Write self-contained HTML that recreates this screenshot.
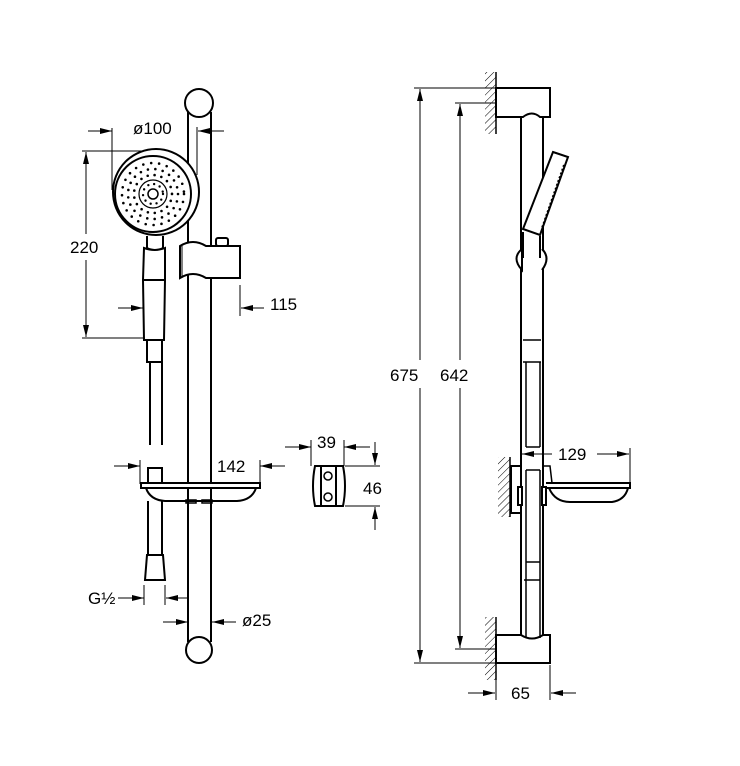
<!DOCTYPE html>
<html><head><meta charset="utf-8"><style>
html,body{margin:0;padding:0;background:#fff}
svg{display:block}
text{font-family:"Liberation Sans",sans-serif;font-size:17px;fill:#000}
</style></head><body>
<svg width="740" height="766" viewBox="0 0 740 766" xmlns="http://www.w3.org/2000/svg">
<defs>
<marker id="a" markerWidth="12" markerHeight="8" refX="12" refY="4" orient="auto" markerUnits="userSpaceOnUse">
<path d="M0,1 L12,4 L0,7 Z" fill="#000"/></marker>
<pattern id="h" width="5" height="5" patternUnits="userSpaceOnUse" patternTransform="rotate(45)">
<line x1="0" y1="0" x2="0" y2="5" stroke="#000" stroke-width="1"/></pattern>
</defs>
<g fill="none" stroke="#000" stroke-width="2">
<circle cx="199" cy="103" r="14" fill="#fff"/>
<line x1="188" y1="112" x2="188" y2="642"/>
<line x1="211" y1="112" x2="211" y2="642"/>
<circle cx="199" cy="650" r="13" fill="#fff"/>
<circle cx="156" cy="192" r="43" fill="#fff"/>
<circle cx="153" cy="194" r="38"/>
<circle cx="153" cy="194" r="14" stroke-width="1.2"/>
<circle cx="153" cy="194" r="5" stroke-width="1.5"/>
<circle cx="153" cy="194" r="10" stroke-width="2.4" stroke-dasharray="0 6" stroke-linecap="round"/>
<circle cx="153" cy="194" r="19" stroke-width="2.6" stroke-dasharray="0 7" stroke-linecap="round"/>
<circle cx="153" cy="194" r="25" stroke-width="2.6" stroke-dasharray="0 7.5" stroke-linecap="round"/>
<circle cx="153" cy="194" r="31" stroke-width="2.6" stroke-dasharray="0 8" stroke-linecap="round"/>
<path d="M147,236 L147,248 Q155,252 163,248 L163,236" fill="#fff"/>
<path d="M144,248 Q155,252 165,248 L165,280 L164,340 L144,340 L143,280 Z" fill="#fff"/>
<line x1="143" y1="280" x2="165" y2="280"/>
<rect x="147" y="340" width="15" height="22"/>
<line x1="150" y1="362" x2="150" y2="445"/>
<line x1="162" y1="362" x2="162" y2="445"/>
<path d="M180,246 Q193,238 206,246 L240,246 L240,278 L206,278 Q193,270 180,278 Z" fill="#fff"/>
<line x1="180" y1="246" x2="180" y2="278"/>
<line x1="182" y1="246" x2="182" y2="278" stroke-width="1"/>
<rect x="216" y="238" width="12" height="8" rx="2"/>
<rect x="148" y="468" width="14" height="15"/>
<path d="M141,483 L260,483 L260,488 L141,488 Z" fill="#fff"/>
<path d="M146,488 Q150,500 165,501 L237,501 Q252,500 256,488"/>
<rect x="186" y="500" width="10" height="3" stroke-width="1.5"/>
<rect x="202" y="500" width="10" height="3" stroke-width="1.5"/>
<line x1="148" y1="501" x2="148" y2="555"/>
<line x1="162" y1="501" x2="162" y2="555"/>
<path d="M147,555 L163,555 L165,580 L145,580 Z"/>
<path d="M315,466 L343,466 Q347,486 343,506 L315,506 Q311,486 315,466 Z"/>
<line x1="321" y1="466" x2="321" y2="506"/>
<line x1="336" y1="466" x2="336" y2="506"/>
<circle cx="328" cy="476" r="4" stroke-width="1.5"/>
<circle cx="328" cy="497" r="4" stroke-width="1.5"/>

<path d="M496,88 L550,88 L550,117 L540,117 Q532,110 523,117 L496,117 Z" fill="#fff"/>
<line x1="521" y1="118" x2="521" y2="638"/>
<line x1="543" y1="118" x2="543" y2="638"/>
<path d="M496,635 L521,635 Q532,642 543,635 L550,635 L550,663 L496,663 Z" fill="#fff"/>
<path d="M553,152 L568,157 L540,235 L523,229 Z" fill="#fff"/>
<line x1="564" y1="165" x2="542" y2="228" stroke-width="2" stroke-dasharray="2 2"/>
<path d="M523,232 L523,258 M540,236 L540,258"/>
<path d="M522,249 Q511,258 522,270 Z" fill="#fff"/>
<path d="M542,249 Q551,258 542,270" fill="#fff"/>
<path d="M523,340 L541,340 M523,362 L541,362" stroke-width="1.5"/>
<line x1="526" y1="362" x2="526" y2="447" stroke-width="1.5"/>
<line x1="540" y1="362" x2="540" y2="447" stroke-width="1.5"/>
<line x1="526" y1="447" x2="540" y2="447" stroke-width="1.5"/>
<line x1="526" y1="470" x2="540" y2="470" stroke-width="1.5"/>
<line x1="526" y1="470" x2="526" y2="638" stroke-width="1.5"/>
<line x1="540" y1="470" x2="540" y2="638" stroke-width="1.5"/>
<line x1="526" y1="562" x2="540" y2="562" stroke-width="1.5"/>
<line x1="524" y1="580" x2="540" y2="580" stroke-width="1.5"/>
<rect x="511" y="466" width="10" height="47" fill="#fff"/>
<rect x="518" y="487" width="4" height="18" fill="#fff"/>
<rect x="542" y="487" width="4" height="18" fill="#fff"/>
<path d="M543,466 L550,466 L552,483" stroke-width="1.5"/>
<path d="M546,483 L630,483 L630,488 L546,488"/>
<path d="M549,488 Q555,502 570,502 L612,502 Q625,500 628,488"/>
</g>
<rect x="485" y="72" width="11" height="62" fill="url(#h)"/>
<line x1="496" y1="72" x2="496" y2="134" stroke="#000" stroke-width="1.5"/>
<rect x="485" y="617" width="11" height="63" fill="url(#h)"/>
<line x1="496" y1="617" x2="496" y2="680" stroke="#000" stroke-width="1.5"/>
<rect x="498" y="457" width="12" height="60" fill="url(#h)"/>
<line x1="510" y1="457" x2="510" y2="517" stroke="#000" stroke-width="1.5"/>

<g stroke="#000" stroke-width="1" fill="none">
<line x1="88" y1="131" x2="112" y2="131" marker-end="url(#a)"/>
<line x1="112" y1="128" x2="112" y2="190"/>
<line x1="224" y1="131" x2="198" y2="131" marker-end="url(#a)"/>
<line x1="197" y1="127" x2="197" y2="175"/>
<line x1="82" y1="151" x2="145" y2="151"/>
<line x1="82" y1="338" x2="143" y2="338"/>
<line x1="86" y1="234" x2="86" y2="152" marker-end="url(#a)"/>
<line x1="86" y1="260" x2="86" y2="337" marker-end="url(#a)"/>
<line x1="118" y1="308" x2="143" y2="308" marker-end="url(#a)"/>
<line x1="240" y1="285" x2="240" y2="316"/>
<line x1="264" y1="308" x2="241" y2="308" marker-end="url(#a)"/>
<line x1="114" y1="466" x2="140" y2="466" marker-end="url(#a)"/>
<line x1="140" y1="460" x2="140" y2="484"/>
<line x1="285" y1="466" x2="260" y2="466" marker-end="url(#a)"/>
<line x1="260" y1="460" x2="260" y2="482"/>
<line x1="118" y1="598" x2="144" y2="598" marker-end="url(#a)"/>
<line x1="144" y1="585" x2="144" y2="605"/>
<line x1="165" y1="585" x2="165" y2="605"/>
<line x1="188" y1="598" x2="166" y2="598" marker-end="url(#a)"/>
<line x1="163" y1="622" x2="188" y2="622" marker-end="url(#a)"/>
<line x1="236" y1="622" x2="212" y2="622" marker-end="url(#a)"/>
<line x1="285" y1="447" x2="311" y2="447" marker-end="url(#a)"/>
<line x1="311" y1="440" x2="311" y2="466"/>
<line x1="370" y1="447" x2="344" y2="447" marker-end="url(#a)"/>
<line x1="344" y1="440" x2="344" y2="466"/>
<line x1="345" y1="466" x2="380" y2="466"/>
<line x1="345" y1="506" x2="380" y2="506"/>
<line x1="375" y1="442" x2="375" y2="465" marker-end="url(#a)"/>
<line x1="375" y1="530" x2="375" y2="507" marker-end="url(#a)"/>
<line x1="414" y1="88" x2="495" y2="88"/>
<line x1="414" y1="663" x2="495" y2="663"/>
<line x1="420" y1="360" x2="420" y2="89" marker-end="url(#a)"/>
<line x1="420" y1="388" x2="420" y2="662" marker-end="url(#a)"/>
<line x1="455" y1="103" x2="495" y2="103"/>
<line x1="455" y1="649" x2="495" y2="649"/>
<line x1="460" y1="360" x2="460" y2="104" marker-end="url(#a)"/>
<line x1="460" y1="388" x2="460" y2="648" marker-end="url(#a)"/>
<line x1="552" y1="454" x2="522" y2="454" marker-end="url(#a)"/>
<line x1="597" y1="454" x2="629" y2="454" marker-end="url(#a)"/>
<line x1="630" y1="448" x2="630" y2="482"/>
<line x1="468" y1="693" x2="495" y2="693" marker-end="url(#a)"/>
<line x1="496" y1="665" x2="496" y2="700"/>
<line x1="550" y1="665" x2="550" y2="700"/>
<line x1="576" y1="693" x2="551" y2="693" marker-end="url(#a)"/>
</g>
<text x="133" y="134">ø100</text>
<text x="70" y="253">220</text>
<text x="270" y="310">115</text>
<text x="217" y="472">142</text>
<text x="88" y="604" font-size="16">G½</text>
<text x="242" y="626">ø25</text>
<text x="317" y="448">39</text>
<text x="363" y="494">46</text>
<text x="390" y="381">675</text>
<text x="440" y="381">642</text>
<text x="558" y="460">129</text>
<text x="511" y="699">65</text>
</svg>
</body></html>
